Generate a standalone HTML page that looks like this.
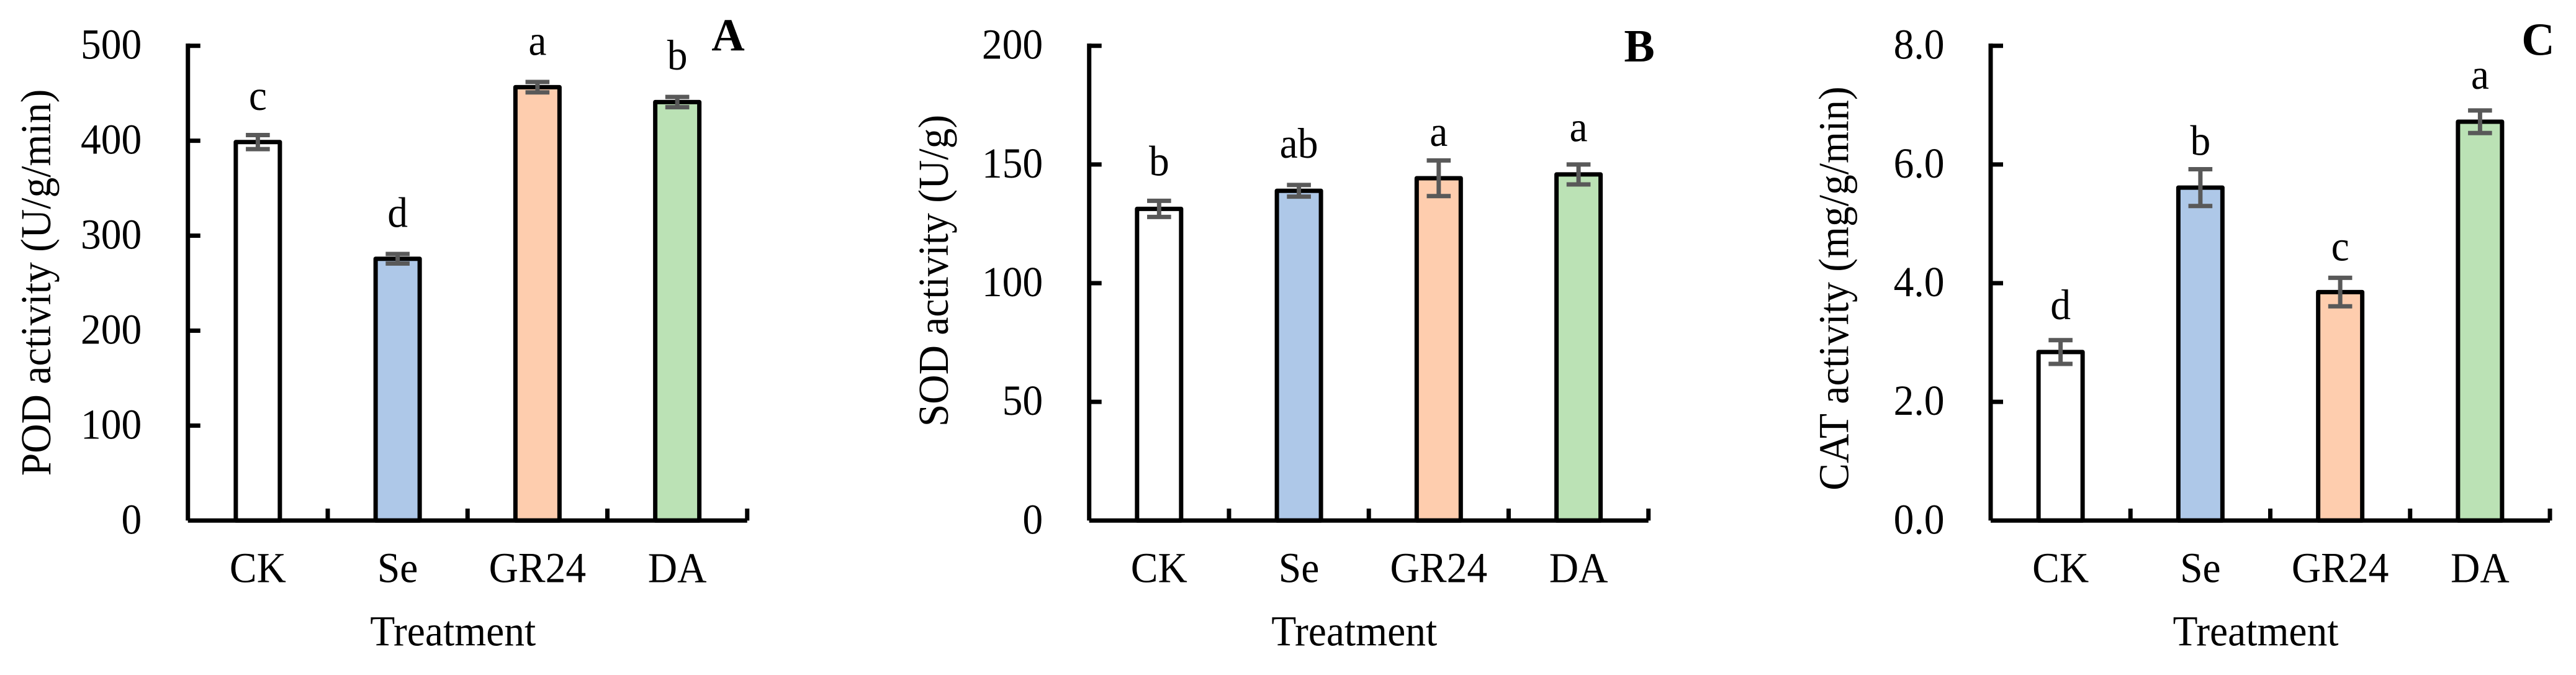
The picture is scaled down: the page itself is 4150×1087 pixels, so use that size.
<!DOCTYPE html>
<html lang="en">
<head>
<meta charset="utf-8">
<title>POD, SOD and CAT activity by treatment</title>
<style>
html,body{margin:0;padding:0;background:#fff;width:4150px;height:1087px;overflow:hidden}
svg{display:block}
text{font-family:"Liberation Serif","Times New Roman",serif;fill:#000}
</style>
</head>
<body>
<svg id="figure" xmlns="http://www.w3.org/2000/svg" width="4150" height="1087" viewBox="0 0 4150 1087">
<rect x="0" y="0" width="4150" height="1087" fill="#ffffff"/>
</svg>
<script>
// ---- Data ----
const categories = ['CK', 'Se', 'GR24', 'DA'];
const xAxisTitle = 'Treatment';

const podValues = [398.6, 275.7, 456.4, 440.7];
const podErrors = [7.4, 5.0, 5.5, 5.4];
const podLetters = ['c', 'd', 'a', 'b'];
const podTicks = [0, 100, 200, 300, 400, 500];
const podTickLabels = ['0', '100', '200', '300', '400', '500'];

const sodValues = [131.3, 138.9, 144.2, 145.8];
const sodErrors = [3.4, 2.45, 7.5, 4.2];
const sodLetters = ['b', 'ab', 'a', 'a'];
const sodTicks = [0, 50, 100, 150, 200];
const sodTickLabels = ['0', '50', '100', '150', '200'];

const catValues = [2.84, 5.61, 3.85, 6.72];
const catErrors = [0.2, 0.31, 0.24, 0.19];
const catLetters = ['d', 'b', 'c', 'a'];
const catTicks = [0, 2, 4, 6, 8];
const catTickLabels = ['0.0', '2.0', '4.0', '6.0', '8.0'];

// ---- Layout and style (not data) ----
const SVG_NS = 'http://www.w3.org/2000/svg';
const figure = document.getElementById('figure');
const plotTop = 73.7;
const plotBottom = 838.3;
const plotWidth = 901;
const barWidth = 71;
const strokeW = 7;
const tickLen = 20;
const capHalf = 19.3;
const fontSize = 69;
const squeeze = 0.95;
const errorColor = '#595959';
const barFills = ['#ffffff', '#aec8e8', '#fecdae', '#bbe2b5'];

const podLetterGaps = [40.5, 43.5, 43.5, 44];
const sodLetterGaps = [41, 44, 23.6, 37.4];
const catLetterGaps = [34, 23, 28, 35];

const panels = [
  { id: 'pod', tag: 'A', tagX: 1173, tagY: 81, axisX: 302.75, max: 500, title: 'POD activity (U/g/min)', titleX: 81, titleY: 455,
    values: podValues, errors: podErrors, letters: podLetters, gaps: podLetterGaps, ticks: podTicks, tickLabels: podTickLabels },
  { id: 'sod', tag: 'B', tagX: 2641, tagY: 99, axisX: 1754.7, max: 200, title: 'SOD activity (U/g)', titleX: 1527, titleY: 436,
    values: sodValues, errors: sodErrors, letters: sodLetters, gaps: sodLetterGaps, ticks: sodTicks, tickLabels: sodTickLabels },
  { id: 'cat', tag: 'C', tagX: 4089, tagY: 88.6, axisX: 3207, max: 8, title: 'CAT activity (mg/g/min)', titleX: 2977.3, titleY: 464.5,
    values: catValues, errors: catErrors, letters: catLetters, gaps: catLetterGaps, ticks: catTicks, tickLabels: catTickLabels }
];

function make(parent, tag, attrs, name) {
  const el = document.createElementNS(SVG_NS, tag);
  for (const k in attrs) el.setAttribute(k, attrs[k]);
  
  
  parent.appendChild(el);
  return el;
}

function line(parent, x1, y1, x2, y2, color, name) {
  return make(parent, 'line', { x1, y1, x2, y2, stroke: color, 'stroke-width': strokeW }, name);
}

function label(parent, str, x, y, opts, name) {
  const o = opts || {};
  const rot = o.rotate ? ' rotate(-90)' : '';
  const sx = o.sx === undefined ? squeeze : o.sx;
  const el = make(parent, 'text', {
    transform: 'translate(' + x + ',' + y + ')' + rot + ' scale(' + sx + ',1)',
    'text-anchor': o.anchor || 'middle',
    'font-size': o.size || fontSize,
    'font-weight': o.weight || 'normal'
  }, name);
  el.textContent = str;
  return el;
}

function drawPanel(p) {
  const g = make(figure, 'g', {}, 'panel-' + p.id);
  const yScale = v => plotBottom - (v / p.max) * (plotBottom - plotTop);
  const band = plotWidth / categories.length;
  const xEdge = i => p.axisX + i * band;
  const xCenter = i => xEdge(i) + band / 2;

  // y axis, ticks and labels
  line(g, p.axisX, plotTop - 3.6, p.axisX, plotBottom, '#000', p.id + '-y-axis');
  p.ticks.forEach((t, i) => {
    const y = yScale(t);
    if (t !== 0) line(g, p.axisX, y, p.axisX + tickLen, y, '#000', p.id + '-y-tick-' + p.tickLabels[i]);
    label(g, p.tickLabels[i], p.axisX - 74.5, y + 21, { anchor: 'end' }, p.id + '-y-tick-label-' + p.tickLabels[i]);
  });

  // x axis ticks at category edges
  for (let i = 1; i <= categories.length; i++) {
    line(g, xEdge(i), plotBottom - tickLen + 0.7, xEdge(i), plotBottom, '#000', p.id + '-x-tick-' + i);
  }

  // bars
  categories.forEach((c, i) => {
    const top = yScale(p.values[i]);
    make(g, 'rect', {
      x: xCenter(i) - barWidth / 2,
      y: top,
      width: barWidth,
      height: plotBottom - top,
      fill: barFills[i],
      stroke: '#000',
      'stroke-width': strokeW,
      'stroke-linejoin': 'round'
    }, p.id + '-bar-' + c.toLowerCase());
  });

  // x axis line sits over bar bases
  line(g, p.axisX, plotBottom, p.axisX + plotWidth, plotBottom, '#000', p.id + '-x-axis');

  // error bars and significance letters
  categories.forEach((c, i) => {
    const x = xCenter(i);
    const hi = yScale(p.values[i] + p.errors[i]);
    const lo = yScale(p.values[i] - p.errors[i]);
    const cn = c.toLowerCase();
    line(g, x, hi, x, lo, errorColor, p.id + '-error-stem-' + cn);
    line(g, x - capHalf, hi, x + capHalf, hi, errorColor, p.id + '-error-cap-top-' + cn);
    line(g, x - capHalf, lo, x + capHalf, lo, errorColor, p.id + '-error-cap-bottom-' + cn);
    label(g, p.letters[i], x, hi - p.gaps[i], {}, p.id + '-significance-letter-' + cn);
    label(g, c, x, 937.7, {}, p.id + '-x-label-' + cn);
  });

  // titles
  label(g, xAxisTitle, p.axisX + 427, 1039.5, {}, p.id + '-x-axis-title');
  label(g, p.title, p.titleX, p.titleY, { rotate: true }, p.id + '-y-axis-title');
  label(g, p.tag, p.tagX, p.tagY, { size: 74, weight: 'bold', sx: 1 }, p.id + '-panel-tag');
}

panels.forEach(drawPanel);
</script>
</body>
</html>
